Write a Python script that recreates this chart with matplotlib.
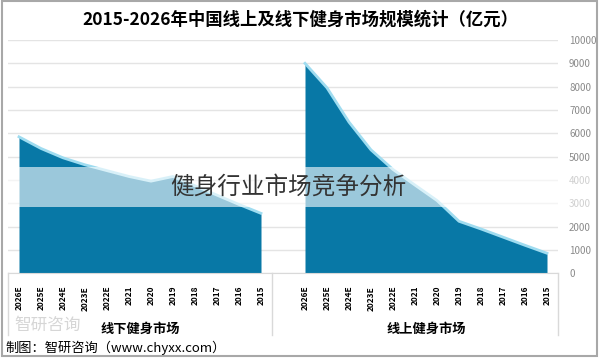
import matplotlib.pyplot as plt
from matplotlib.patches import Rectangle

plt.rcParams['font.family'] = ['Noto Sans CJK SC', 'DejaVu Sans']

# data (the reference picture is mirrored: latest year on the left)
years = ["2015", "2016", "2017", "2018", "2019", "2020", "2021",
         "2022E", "2023E", "2024E", "2025E", "2026E"]
offline = [2570, 2950, 3350, 3750, 4150, 3950, 4150, 4400, 4650, 4950, 5350, 5850]
online = [860, 1200, 1550, 1900, 2230, 3120, 3780, 4450, 5290, 6480, 7950, 9000]
panels = ["线下健身市场", "线上健身市场"]
y_ticks = [0, 1000, 2000, 3000, 4000, 5000, 6000, 7000, 8000, 9000, 10000]

fill_color = "#0878a6"
edge_color = "#9fdcf0"

n = len(years)
x_off = [n - 1 - k for k in range(n)]
x_on = [2 * n - k for k in range(n)]

fig = plt.figure(figsize=(6, 3.6), dpi=100)
ax = fig.add_axes([8 / 600, 1 - 273.3 / 360, 550 / 600, 233.3 / 360])

ax.fill_between(x_off, offline, color=fill_color, lw=0, zorder=2)
ax.plot(x_off, offline, color=edge_color, lw=2, zorder=3)
ax.fill_between(x_on, online, color=fill_color, lw=0, zorder=2)
ax.plot(x_on, online, color=edge_color, lw=2, zorder=3)

ax.set_xlim(-0.5, 2 * n + 0.5)
ax.set_ylim(0, 10000)
ax.set_yticks(y_ticks)
ax.yaxis.tick_right()
ax.tick_params(axis="y", length=0, pad=8, labelsize=7, labelcolor="#8a8a8a")
ax.grid(axis="y", color="#e4e4e4", lw=1, zorder=0)
ax.set_xticks(x_off + x_on)
ax.set_xticklabels(years + years, rotation=90, fontsize=6, fontweight="bold")
ax.tick_params(axis="x", length=0, pad=9)
for s in ["top", "left", "right"]:
    ax.spines[s].set_visible(False)
ax.spines["bottom"].set_color("#d9d9d9")

# category separators and panel names
for xs in [-0.5, n - 0.5, 2 * n + 0.5]:
    ax.plot([xs, xs], [0, -2650], color="#d9d9d9", lw=1, clip_on=False)
ax.text((n - 1) / 2, -2380, panels[0], ha="center", va="center",
        fontsize=9.5, fontweight="bold")
ax.text(n + 1 + (n - 1) / 2, -2380, panels[1], ha="center", va="center",
        fontsize=9.5, fontweight="bold")

# title
fig.text(0.5, 1 - 20 / 360, "2015-2026年中国线上及线下健身市场规模统计（亿元）",
         ha="center", va="center", fontsize=12.5, fontweight="bold")

# faint logo and source line
fig.text(14 / 600, 1 - 325 / 360, "智研咨询", fontsize=12, color="#d6d6d6",
         ha="left", va="center", zorder=0)
fig.text(5 / 600, 1 - 348 / 360, "制图：智研咨询（www.chyxx.com）",
         fontsize=9.5, ha="left", va="center")

# watermark band
fig.patches.append(Rectangle((0, 1 - 207 / 360), 1, 40 / 360, transform=fig.transFigure,
                             facecolor="white", alpha=0.6, lw=0, zorder=5))
fig.text(288 / 600, 1 - 187 / 360, "健身行业市场竞争分析", ha="center", va="center",
         fontsize=17, color="#333333", zorder=6)

# outer frame
fig.patches.append(Rectangle((0.003, 0.012), 0.992, 0.985, transform=fig.transFigure,
                             fill=False, edgecolor="#a8a8a8", lw=1.5, zorder=7))

fig.savefig("out.png", dpi=100)
